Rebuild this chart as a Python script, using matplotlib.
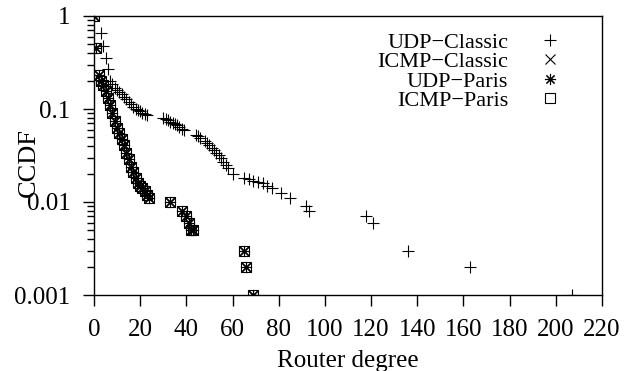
import numpy as np
import matplotlib
matplotlib.use("Agg")
import matplotlib.pyplot as plt
from matplotlib.ticker import LogLocator, FixedLocator, FixedFormatter, NullFormatter

# CCDF of router degree
udp_classic_deg = [0, 3, 4, 5, 6, 7, 8, 9, 10, 11, 12, 13, 14, 15, 16, 17, 18, 19, 20, 21, 22, 23,
                   30, 31, 32, 33, 34, 35, 36, 37, 38, 39, 44, 45, 46, 48, 49, 50, 51, 52, 53, 54,
                   55, 56, 57, 58, 60, 65, 67, 69, 71, 73, 75, 77, 81, 85, 92, 93, 118, 121, 136, 163, 207]
udp_classic_ccdf = [1.0, 0.65, 0.47, 0.35, 0.27, 0.2, 0.185, 0.17, 0.16, 0.152, 0.145, 0.135, 0.128,
                    0.12, 0.112, 0.106, 0.101, 0.097, 0.094, 0.091, 0.089, 0.087,
                    0.08, 0.078, 0.076, 0.073, 0.071, 0.069, 0.067, 0.064, 0.061, 0.059, 0.053, 0.051,
                    0.049, 0.045, 0.043, 0.041, 0.038, 0.036, 0.034, 0.032,
                    0.03, 0.027, 0.025, 0.023, 0.02, 0.018, 0.0175, 0.017, 0.0165, 0.016, 0.015, 0.014,
                    0.0124, 0.011, 0.009, 0.008, 0.007, 0.006, 0.003, 0.002, 0.001]

paris_deg = [0, 1, 2, 3, 4, 5, 6, 7, 8, 9, 10, 11, 12, 13, 14, 15, 16, 17, 18, 19, 20, 21, 22, 23, 24,
             33, 38, 40, 41, 42, 43, 65, 66, 69]
icmp_classic_ccdf = [1.0, 0.45, 0.23, 0.2, 0.18, 0.155, 0.13, 0.11, 0.09, 0.075, 0.063, 0.055, 0.048,
                     0.041, 0.034, 0.029, 0.024, 0.021, 0.018, 0.016, 0.015, 0.014, 0.013, 0.012, 0.011,
                     0.01, 0.008, 0.007, 0.006, 0.005, 0.005, 0.003, 0.002, 0.001]
udp_paris_ccdf = icmp_classic_ccdf
icmp_paris_ccdf = icmp_classic_ccdf

x_ticks = list(range(0, 221, 20))
y_ticks = [0.001, 0.01, 0.1, 1]
y_tick_labels = ["0.001", "0.01", "0.1", "1"]

plt.rcParams['font.family'] = ['Liberation Serif', 'DejaVu Serif']
plt.rcParams['font.size'] = 18

fig = plt.figure(figsize=(6.38, 3.71), dpi=100)
ax = fig.add_axes([94 / 638, 1 - 295 / 371, 508 / 638, 279 / 371])

ms = 8
lw = 0.8
ax.plot(udp_classic_deg, udp_classic_ccdf, ls='none', marker='+', ms=ms + 1, mew=lw,
        color='black', label='UDP\u2212Classic')
ax.plot(paris_deg, icmp_classic_ccdf, ls='none', marker='x', ms=ms - 1, mew=lw,
        color='black', label='ICMP\u2212Classic')
ax.plot(paris_deg, udp_paris_ccdf, ls='none', marker=(8, 2, 0), ms=ms, mew=lw,
        color='black', label='UDP\u2212Paris')
ax.plot(paris_deg, icmp_paris_ccdf, ls='none', marker='s', ms=ms - 1, mew=lw, mfc='none',
        color='black', label='ICMP\u2212Paris')

ax.set_yscale('log')
ax.set_xlim(0, 220)
ax.set_ylim(0.001, 1)
ax.xaxis.set_major_locator(FixedLocator(x_ticks))
ax.yaxis.set_major_locator(FixedLocator(y_ticks))
ax.yaxis.set_major_formatter(FixedFormatter(y_tick_labels))
ax.yaxis.set_minor_locator(LogLocator(base=10, subs=np.arange(2, 10)))
ax.yaxis.set_minor_formatter(NullFormatter())

for s in ax.spines.values():
    s.set_linewidth(1.0)
ax.tick_params(which='major', direction='out', length=8, width=1.0, pad=9,
               top=False, right=False, labelsize=18)
ax.tick_params(which='minor', direction='out', length=5, width=1.0, top=False, right=False)

ax.set_xlabel('Router degree', fontsize=18, labelpad=7)
fig.text(29 / 638, 1 - 162 / 371, 'CCDF', fontsize=19, rotation=90, ha='center', va='center')

ax.legend(loc='upper right', bbox_to_anchor=(0.955, 0.998), frameon=False, markerfirst=False,
          fontsize=16, handlelength=1.2, handletextpad=1.3, labelspacing=-0.05, borderpad=0.2)

fig.savefig('out.png', dpi=100)
